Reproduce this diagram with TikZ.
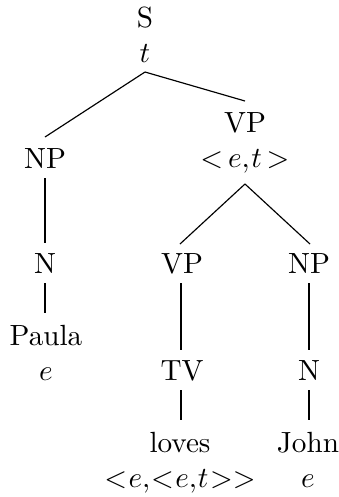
\documentclass[tikz,border=0pt]{standalone}
\usetikzlibrary{calc}
\begin{document}
\begin{tikzpicture}[x=0.3425pt,y=-0.3425pt,
  lbl/.style={anchor=base,inner sep=0pt},
  type/.style={lbl,execute at begin node={\thickmuskip=3mu\medmuskip=2mu\thinmuskip=1mu}},
  longtype/.style={lbl,execute at begin node={\thickmuskip=1mu\medmuskip=1mu\thinmuskip=0.5mu}},
  edge/.style={draw,line width=0.4pt}]
\useasboundingbox (0,0) rectangle (339,497);
% root
\node[lbl] (s)  at (145,27) {S};
\node[lbl] (st) at (145,62) {$t$};
% subject
\node[lbl] (np1) at (45,168) {NP};
\node[lbl] (n1)  at (45,273) {N};
\node[lbl] (paula) at (46,345) {Paula};
\node[lbl] (pe) at (46,380) {$e$};
% predicate
\node[lbl] (vp1) at (245,132) {VP};
\node[type] (vpt) at (245,167) {$<e,t>$};
\node[lbl] (vp2) at (182,273) {VP};
\node[lbl] (tv)  at (182,380) {TV};
\node[lbl] (loves) at (180,452) {loves};
\node[longtype] (lt) at (180,487) {$<e,<e,t>>$};
% object
\node[lbl] (np2) at (309,273) {NP};
\node[lbl] (n2)  at (309,380) {N};
\node[lbl] (john) at (308,452) {John};
\node[lbl] (je) at (308,487) {$e$};
% branches
\draw[edge] ($(st.base)+(0,10)$) -- ($(np1.base)+(0,-31)$);
\draw[edge] ($(st.base)+(0,10)$) -- ($(vp1.base)+(0,-31)$);
\draw[edge] ($(np1.base)+(0,10)$) -- ($(n1.base)+(0,-30)$);
\draw[edge] ($(n1.base)+(0,10)$) -- ($(paula.base)+(-1,-32)$);
\draw[edge] ($(vpt.base)+(0,17)$) -- ($(vp2.base)+(-2,-29)$);
\draw[edge] ($(vpt.base)+(0,17)$) -- ($(np2.base)+(1,-29)$);
\draw[edge] ($(vp2.base)+(-1,10)$) -- ($(tv.base)+(-1,-30)$);
\draw[edge] ($(tv.base)+(-1,10)$) -- ($(tv.base)+(-1,40)$);
\draw[edge] ($(np2.base)+(0,10)$) -- ($(n2.base)+(0,-30)$);
\draw[edge] ($(n2.base)+(0,10)$) -- ($(n2.base)+(0,40)$);
\end{tikzpicture}
\end{document}
